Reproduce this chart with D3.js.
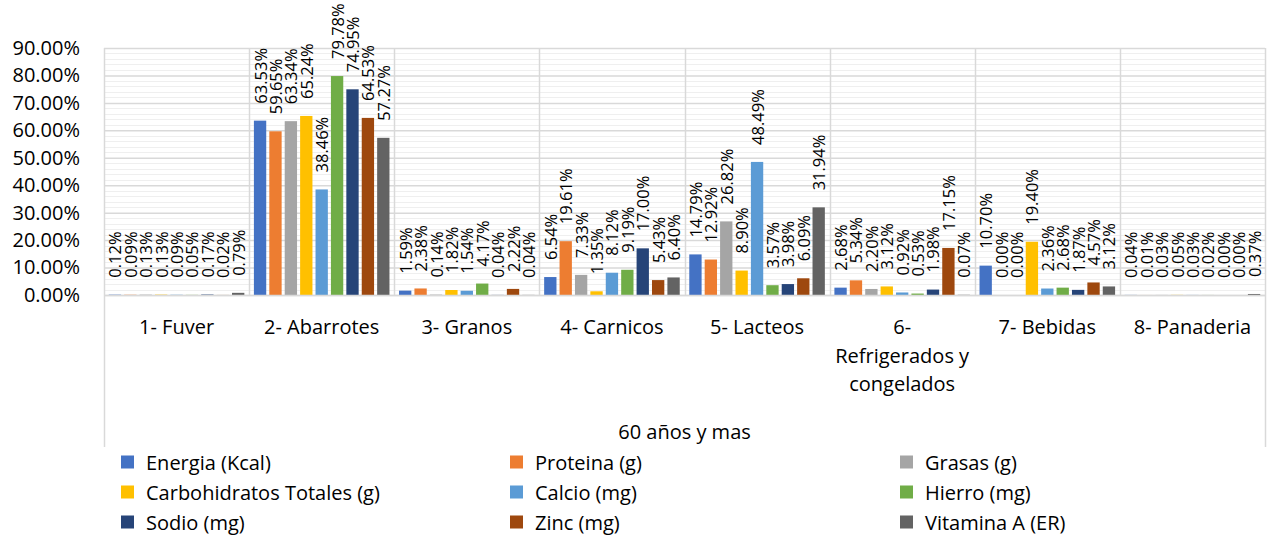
<!DOCTYPE html>
<html>
<head>
<meta charset="utf-8">
<script src="https://cdn.jsdelivr.net/npm/d3@7"></script>
<style>
  html, body { margin: 0; padding: 0; background: #fff; }
  svg { display: block; font-family: "Open Sans", sans-serif; }
</style>
</head>
<body>
<svg id="chart" width="1268" height="537"></svg>
<script>
const categories = ["1- Fuver", "2- Abarrotes", "3- Granos", "4- Carnicos", "5- Lacteos",
  "6- Refrigerados y congelados", "7- Bebidas", "8- Panaderia"];
const categoryLines = [["1- Fuver"], ["2- Abarrotes"], ["3- Granos"], ["4- Carnicos"], ["5- Lacteos"],
  ["6-", "Refrigerados y", "congelados"], ["7- Bebidas"], ["8- Panaderia"]];
const groupLabel = "60 años y mas";
const seriesNames = ["Energia (Kcal)", "Proteina (g)", "Grasas (g)", "Carbohidratos Totales (g)",
  "Calcio (mg)", "Hierro (mg)", "Sodio (mg)", "Zinc (mg)", "Vitamina A (ER)"];
const seriesColors = ["#4472C4", "#ED7D31", "#A5A5A5", "#FFC000", "#5B9BD5", "#70AD47", "#264478", "#9E480E", "#636363"];
// values (%) per category, in series order
const fuver      = [0.12, 0.09, 0.13, 0.13, 0.09, 0.05, 0.17, 0.02, 0.79];
const abarrotes  = [63.53, 59.65, 63.34, 65.24, 38.46, 79.78, 74.95, 64.53, 57.27];
const granos     = [1.59, 2.38, 0.14, 1.82, 1.54, 4.17, 0.04, 2.22, 0.04];
const carnicos   = [6.54, 19.61, 7.33, 1.35, 8.12, 9.19, 17.00, 5.43, 6.40];
const lacteos    = [14.79, 12.92, 26.82, 8.90, 48.49, 3.57, 3.98, 6.09, 31.94];
const refrigerados = [2.68, 5.34, 2.20, 3.12, 0.92, 0.53, 1.98, 17.15, 0.07];
const bebidas    = [10.70, 0.00, 0.00, 19.40, 2.36, 2.68, 1.87, 4.57, 3.12];
const panaderia  = [0.04, 0.01, 0.03, 0.05, 0.03, 0.02, 0.00, 0.00, 0.37];
const values = [fuver, abarrotes, granos, carnicos, lacteos, refrigerados, bebidas, panaderia];
const yTicks = [0, 10, 20, 30, 40, 50, 60, 70, 80, 90];

const svg = d3.select("#chart");
const mLeft = 104, mRight = 1265, mTop = 48, mBottom = 295, axisBottom = 447;
const FS = 20;

const x0 = d3.scaleBand().domain(categories).range([mLeft, mRight]).padding(0);
const x1 = d3.scaleBand().domain(seriesNames).range([0, x0.bandwidth()]).paddingInner(0.2).paddingOuter(0.31);
const y = d3.scaleLinear().domain([0, 90]).range([mBottom, mTop]);

// minor gridlines
const minor = d3.range(0, 90.001, 2).filter(v => Math.abs(v % 10) > 0.001);
svg.append("g").selectAll("line").data(minor).join("line")
  .attr("x1", mLeft).attr("x2", mRight)
  .attr("y1", d => Math.round(y(d)) + 0.5).attr("y2", d => Math.round(y(d)) + 0.5)
  .attr("stroke", "#efefef").attr("stroke-width", 1);

// major gridlines via axis
const yAxis = d3.axisLeft(y).tickValues(yTicks).tickSize(-(mRight - mLeft)).tickFormat(d => d.toFixed(2) + "%");
const gy = svg.append("g").attr("transform", `translate(${mLeft},0)`).call(yAxis);
gy.select(".domain").remove();
gy.selectAll(".tick line").attr("stroke", "#d9d9d9").attr("stroke-width", 1.5);
gy.selectAll(".tick text").attr("x", -24).attr("fill", "#000")
  .style("font-size", FS + "px").style("font-family", "Open Sans, sans-serif");

// vertical separators
const bounds = categories.map(c => x0(c)).concat([mRight]);
svg.append("g").selectAll("line").data(bounds).join("line")
  .attr("x1", d => Math.round(d) + 0.5).attr("x2", d => Math.round(d) + 0.5)
  .attr("y1", mTop).attr("y2", (d, i) => (i === 0 || i === bounds.length - 1) ? axisBottom : mBottom)
  .attr("stroke", "#d9d9d9").attr("stroke-width", 1.5);

// bars
const groups = svg.append("g").selectAll("g").data(categories).join("g")
  .attr("transform", c => `translate(${x0(c)},0)`);
groups.selectAll("rect").data((c, ci) => seriesNames.map((s, si) => ({ s, si, v: values[ci][si] })))
  .join("rect")
  .attr("x", d => x1(d.s)).attr("width", x1.bandwidth())
  .attr("y", d => y(d.v)).attr("height", d => mBottom - y(d.v))
  .attr("fill", d => seriesColors[d.si]);

// labels
groups.selectAll("text").data((c, ci) => seriesNames.map((s, si) => ({ s, si, v: values[ci][si] })))
  .join("text")
  .attr("transform", d => `translate(${x1(d.s) + x1.bandwidth() / 2},${y(d.v) - 17}) rotate(-90)`)
  .attr("dominant-baseline", "central")
  .attr("text-anchor", "start")
  .style("font-size", "16.5px").attr("fill", "#000")
  .text(d => d.v.toFixed(2) + "%");

// axis line at 0
svg.append("line").attr("x1", mLeft).attr("x2", mRight)
  .attr("y1", Math.round(y(0)) + 0.5).attr("y2", Math.round(y(0)) + 0.5)
  .attr("stroke", "#d9d9d9").attr("stroke-width", 1.5);

// category labels
const cl = svg.append("g").selectAll("text").data(categories).join("text")
  .attr("x", c => x0(c) + x0.bandwidth() / 2)
  .attr("y", 334).attr("text-anchor", "middle").style("font-size", FS + "px").attr("fill", "#000");
cl.each(function (c, i) {
  d3.select(this).selectAll("tspan").data(categoryLines[i]).join("tspan")
    .attr("x", x0(c) + x0.bandwidth() / 2).attr("dy", (d, j) => j === 0 ? 0 : 28.5).text(d => d);
});

svg.append("text").attr("x", (mLeft + mRight) / 2).attr("y", 439).attr("text-anchor", "middle")
  .style("font-size", FS + "px").attr("fill", "#000").text(groupLabel);

// legend
const colX = [121, 510, 900], rowY = [462, 492, 522];
const lg = svg.append("g").selectAll("g").data(seriesNames).join("g")
  .attr("transform", (d, i) => `translate(${colX[i % 3]},${rowY[Math.floor(i / 3)]})`);
lg.append("rect").attr("x", 0).attr("y", -6.5).attr("width", 13).attr("height", 13)
  .attr("fill", (d, i) => seriesColors[i]);
lg.append("text").attr("x", 25).attr("y", 0).attr("dominant-baseline", "central")
  .style("font-size", FS + "px").attr("fill", "#000").text(d => d);
</script>
</body>
</html>
